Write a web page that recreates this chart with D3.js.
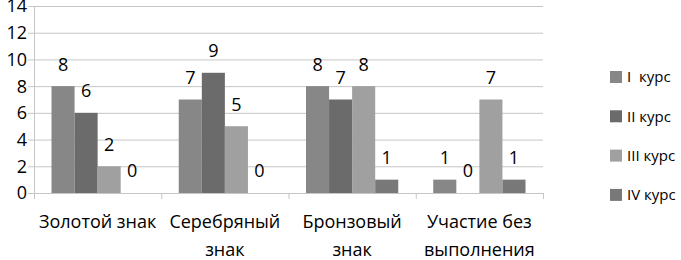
<!DOCTYPE html>
<html>
<head>
<meta charset="utf-8">
<script src="https://cdn.jsdelivr.net/npm/d3@7"></script>
<style>
  body { margin: 0; background: #fff; }
  text { font-family: "Open Sans", sans-serif; fill: #000; }
</style>
</head>
<body>
<script>
const categories = [["Золотой знак"], ["Серебряный", "знак"], ["Бронзовый", "знак"], ["Участие без", "выполнения"]];
const seriesNames = ["I  курс", "II курс", "III курс", "IV курс"];
const course1 = [8, 7, 8, 1];
const course2 = [6, 9, 7, 0];
const course3 = [2, 5, 8, 7];
const course4 = [0, 0, 1, 1];
const yTicks = [0, 2, 4, 6, 8, 10, 12, 14];
const colors = ["#878787", "#6b6b6b", "#a0a0a0", "#787878"];

const width = 681, height = 260;
const margin = {top: 6, right: 138, bottom: 67, left: 34};
const chartWidth = width - margin.left - margin.right;
const chartHeight = height - margin.top - margin.bottom;

const series = [course1, course2, course3, course4];

const x = d3.scaleBand()
    .domain(d3.range(categories.length))
    .range([0, chartWidth])
    .paddingInner(0)
    .paddingOuter(0);

const x1 = d3.scaleBand()
    .domain(d3.range(series.length))
    .range([17.5, x.bandwidth() - 17.5]);

const y = d3.scaleLinear().domain([0, 14]).range([chartHeight, 0]);

const svg = d3.select("body").append("svg")
    .attr("width", width)
    .attr("height", height)
  .append("g")
    .attr("transform", "translate(" + margin.left + "," + margin.top + ")");

// grid
svg.append("g")
    .selectAll("line")
    .data(yTicks)
    .enter().append("line")
    .attr("x1", -6)
    .attr("x2", chartWidth)
    .attr("y1", d => y(d) + 0.5)
    .attr("y2", d => y(d) + 0.5)
    .attr("stroke", "#c6c6c6");

svg.append("line")
    .attr("x1", 0.5).attr("x2", 0.5)
    .attr("y1", 0).attr("y2", chartHeight)
    .attr("stroke", "#c6c6c6");

// category separators
svg.append("g")
    .selectAll("line")
    .data(d3.range(categories.length + 1))
    .enter().append("line")
    .attr("x1", d => (d < categories.length ? x(d) : chartWidth) + 0.5)
    .attr("x2", d => (d < categories.length ? x(d) : chartWidth) + 0.5)
    .attr("y1", chartHeight)
    .attr("y2", chartHeight + 6)
    .attr("stroke", "#c6c6c6");

// y labels
svg.append("g")
    .selectAll("text")
    .data(yTicks)
    .enter().append("text")
    .attr("x", -7)
    .attr("y", d => y(d))
    .attr("dy", "0.36em")
    .attr("text-anchor", "end")
    .style("font-size", "18px")
    .text(d => d);

// bars
const groups = svg.selectAll(".grp")
    .data(categories)
    .enter().append("g")
    .attr("class", "grp")
    .attr("transform", (d, i) => "translate(" + x(i) + ",0)");

groups.selectAll("rect")
    .data((d, i) => series.map((s, j) => ({s: j, v: s[i]})))
    .enter().append("rect")
    .attr("x", d => x1(d.s))
    .attr("width", x1.bandwidth())
    .attr("y", d => y(d.v))
    .attr("height", d => chartHeight - y(d.v))
    .attr("fill", d => colors[d.s]);

groups.selectAll(".val")
    .data((d, i) => series.map((s, j) => ({s: j, v: s[i]})))
    .enter().append("text")
    .attr("class", "val")
    .attr("x", d => x1(d.s) + x1.bandwidth() / 2)
    .attr("y", d => y(d.v) - 22)
    .attr("dy", "0.36em")
    .attr("text-anchor", "middle")
    .style("font-size", "18px")
    .text(d => d.v);

// category labels
groups.append("text")
    .attr("x", x.bandwidth() / 2)
    .attr("y", chartHeight + 29)
    .attr("text-anchor", "middle")
    .style("font-size", "18px")
    .selectAll("tspan")
    .data(d => d)
    .enter().append("tspan")
    .attr("x", x.bandwidth() / 2)
    .attr("dy", (d, i) => i === 0 ? "0.36em" : "28px")
    .text(d => d);

// legend
const legend = d3.select("svg").append("g")
    .attr("transform", "translate(610,77)");

const items = legend.selectAll("g")
    .data(seriesNames)
    .enter().append("g")
    .attr("transform", (d, i) => "translate(0," + i * 39.3 + ")");

items.append("rect")
    .attr("x", 0).attr("y", -6)
    .attr("width", 12).attr("height", 12)
    .attr("fill", (d, i) => colors[i]);

items.append("text")
    .attr("x", 17)
    .attr("dy", "0.36em")
    .style("font-size", "15px")
    .style("white-space", "pre")
    .text(d => d);
</script>
</body>
</html>
